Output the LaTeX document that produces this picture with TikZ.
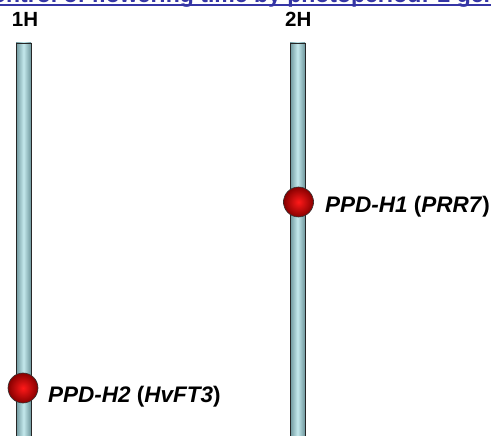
\documentclass[tikz,border=0pt]{standalone}
\usepackage{fontspec}
\setmainfont{Liberation Sans}
\definecolor{titleblue}{RGB}{53,53,165}
\definecolor{chromedge}{RGB}{110,150,156}
\definecolor{chromcenter}{RGB}{196,232,236}
\definecolor{ballin}{RGB}{255,25,25}
\definecolor{ballout}{RGB}{135,0,0}
\tikzset{
  chromlabel/.style={inner sep=0pt, anchor=base west, font=\fontsize{20.5}{24}\selectfont\bfseries},
  genelabel/.style={inner sep=0pt, anchor=base west, font=\fontsize{22.5}{27}\selectfont\bfseries},
  titletext/.style={inner sep=0pt, anchor=base west, text=titleblue, font=\fontsize{23}{27}\selectfont\bfseries},
}
\newcommand{\chromosome}[2]{%
  \shade[left color=chromedge, right color=chromedge, middle color=chromcenter] (#1,43) rectangle (#2,440);
  \draw[black!85, line width=0.9pt] (#1,440) -- (#1,43) -- (#2,43) -- (#2,440);
}
\newcommand{\locusball}[2]{%
  \shade[inner color=ballin, outer color=ballout] (#1,#2) circle (15);
  \draw[black!80, line width=0.6pt] (#1,#2) circle (15);
}
\begin{document}
\begin{tikzpicture}[x=1pt, y=-1pt]
\useasboundingbox (0,0) rectangle (491,436);
\clip (0,0) rectangle (491,436);
\fill[white] (0,0) rectangle (491,436);
% title (cut off)
\node[titletext] (title) at (-24.7,2.5) {Control of flowering time by photoperiod: 2 genes};
\draw[titleblue, line width=2.2pt] (0,4.75) -- (491,4.75);
% chromosome labels
\node[chromlabel] (l1H) at (11.7,26.7) {1H};
\node[chromlabel] (l2H) at (285,26.7) {2H};
% chromosomes
\chromosome{16}{31}
\chromosome{290}{305}
% loci
\locusball{23}{388}
\locusball{298.5}{202}
\node[genelabel] (ppdh2) at (48,402) {\textit{PPD-H2} (\textit{HvFT3})};
\node[genelabel] (ppdh1) at (325,213) {\textit{PPD-H1} (\textit{PRR7})};
\end{tikzpicture}
\end{document}
